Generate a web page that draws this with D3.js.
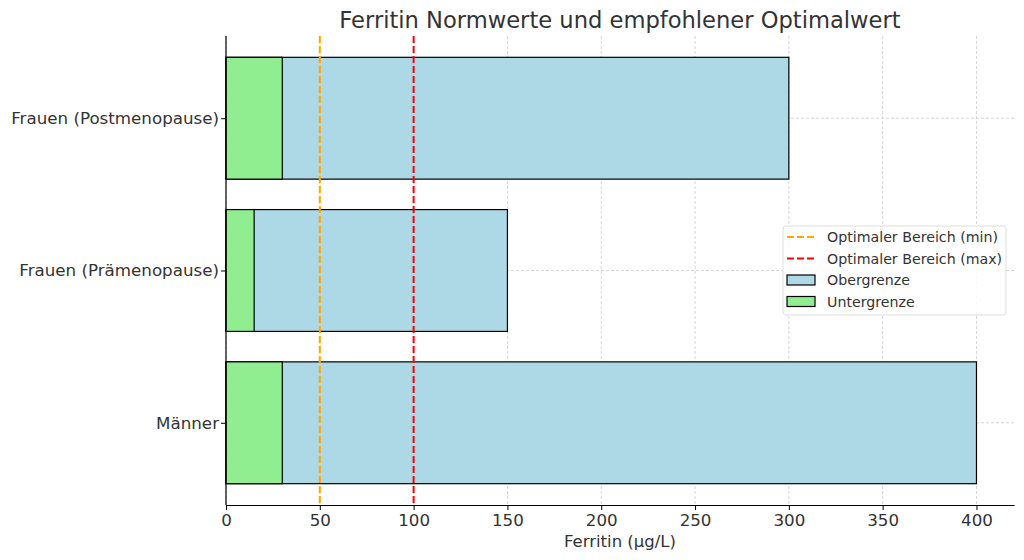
<!DOCTYPE html>
<html><head><meta charset="utf-8">
<script src="https://cdn.jsdelivr.net/npm/d3@7"></script>
<style>body{margin:0;background:#fff}svg{display:block}text{font-family:"DejaVu Sans",sans-serif;fill:#333}</style>
</head><body>
<svg id="c" width="1024" height="560"></svg>
<script>
const categories = ["Männer", "Frauen (Prämenopause)", "Frauen (Postmenopause)"];
const lowerValues = [30, 15, 30];
const upperValues = [400, 150, 300];
const optimalMin = 50;
const optimalMax = 100;
const xTicks = [0, 50, 100, 150, 200, 250, 300, 350, 400];
const legendLabels = ["Optimaler Bereich (min)", "Optimaler Bereich (max)", "Obergrenze", "Untergrenze"];

(function () {
const svg = d3.select("#c");
const pL = 226, pR = 1014, pT = 36, pB = 505;
const x = d3.scaleLinear().domain([0, 420]).range([pL, pR]);
const yIdx = d3.scaleLinear().domain([-0.54, 2.54]).range([pB, pT]);
const bandH = yIdx(0) - yIdx(0.8);

// grid
const g = svg.append("g");
g.selectAll("line.gx").data(xTicks).enter().append("line")
  .attr("x1", d => x(d)).attr("x2", d => x(d)).attr("y1", pT).attr("y2", pB)
  .attr("stroke", "#ccc").attr("stroke-width", 0.8).attr("stroke-dasharray", "3,2");
g.selectAll("line.gy").data(categories).enter().append("line")
  .attr("x1", pL).attr("x2", pR).attr("y1", (d, i) => yIdx(i)).attr("y2", (d, i) => yIdx(i))
  .attr("stroke", "#ccc").attr("stroke-width", 0.8).attr("stroke-dasharray", "3,2");

// bars
svg.selectAll("rect.up").data(upperValues).enter().append("rect")
  .attr("x", x(0)).attr("y", (d, i) => yIdx(i) - bandH / 2)
  .attr("width", d => x(d) - x(0)).attr("height", bandH)
  .attr("fill", "#ADD8E6").attr("stroke", "#000").attr("stroke-width", 1.2);
svg.selectAll("rect.lo").data(lowerValues).enter().append("rect")
  .attr("x", x(0)).attr("y", (d, i) => yIdx(i) - bandH / 2)
  .attr("width", d => x(d) - x(0)).attr("height", bandH)
  .attr("fill", "#90EE90").attr("stroke", "#000").attr("stroke-width", 1.2);

// optimal lines
[[optimalMin, "orange"], [optimalMax, "red"]].forEach(([v, c]) => {
  svg.append("line").attr("x1", x(v)).attr("x2", x(v)).attr("y1", pT).attr("y2", pB)
    .attr("stroke", c).attr("stroke-width", 2).attr("stroke-dasharray", "7,3");
});

// axes
const xAxis = svg.append("g").attr("transform", `translate(0,${pB})`)
  .call(d3.axisBottom(x).tickValues(xTicks).tickSize(5).tickSizeOuter(0).tickPadding(4));
const yAxis = svg.append("g").attr("transform", `translate(${pL},0)`)
  .call(d3.axisLeft(d3.scaleOrdinal().domain(categories).range(categories.map((d, i) => yIdx(i))))
  .tickSize(5).tickPadding(2));
yAxis.select(".domain").remove();
svg.append("line").attr("x1", pL).attr("x2", pL).attr("y1", pT).attr("y2", pB).attr("stroke", "#000").attr("stroke-width", 1.2);
xAxis.select(".domain").attr("stroke", "#000").attr("stroke-width", 1.2);
[xAxis, yAxis].forEach(a => {
  a.selectAll(".tick line").attr("stroke", "#000").attr("stroke-width", 1);
  a.selectAll(".tick text").style("font-size", "16.7px").style("fill", "#333");
});

svg.append("text").attr("x", (pL + pR) / 2).attr("y", 547).attr("text-anchor", "middle")
  .style("font-size", "16.5px").text("Ferritin (µg/L)");
svg.append("text").attr("x", (pL + pR) / 2).attr("y", 28).attr("text-anchor", "middle")
  .style("font-size", "22.6px").text("Ferritin Normwerte und empfohlener Optimalwert");

// legend
const lg = svg.append("g").attr("transform", "translate(783,226)");
lg.append("rect").attr("width", 223).attr("height", 89).attr("rx", 3)
  .attr("fill", "#fff").attr("fill-opacity", 0.85).attr("stroke", "#ddd");
const legendStyles = [
  {type: "line", color: "orange"}, {type: "line", color: "red"},
  {type: "rect", color: "#ADD8E6"}, {type: "rect", color: "#90EE90"}
];
legendLabels.forEach((lab, i) => {
  const yy = 11 + i * 21.5;
  const s = legendStyles[i];
  if (s.type === "line") {
    lg.append("line").attr("x1", 4).attr("x2", 32).attr("y1", yy).attr("y2", yy)
      .attr("stroke", s.color).attr("stroke-width", 2).attr("stroke-dasharray", "7,3");
  } else {
    lg.append("rect").attr("x", 4).attr("y", yy - 5).attr("width", 28).attr("height", 10)
      .attr("fill", s.color).attr("stroke", "#000").attr("stroke-width", 1.2);
  }
  lg.append("text").attr("x", 44).attr("y", yy + 5).style("font-size", "14.2px").text(lab);
});
})();
</script>
</body></html>
